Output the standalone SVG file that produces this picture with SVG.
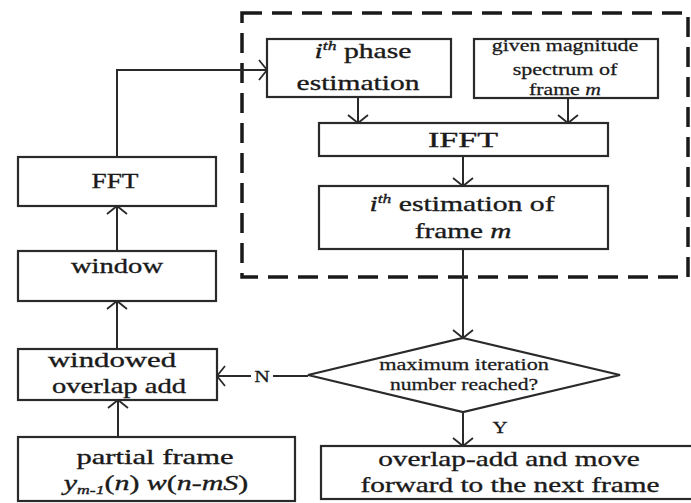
<svg xmlns="http://www.w3.org/2000/svg" width="691" height="503" viewBox="0 0 691 503">
<defs>
<style>
.box{fill:#fff;stroke:#2a2a2a;stroke-width:2.2}
.t{font-family:"Liberation Serif","Times New Roman",serif;font-size:22px;fill:#1a1a1a;stroke:#1a1a1a;stroke-width:0.35;text-anchor:middle}
.s{font-family:"Liberation Serif","Times New Roman",serif;font-size:16px;fill:#1a1a1a;stroke:#1a1a1a;stroke-width:0.25;text-anchor:middle}
.i{font-style:italic}
.ln{fill:none;stroke:#2a2a2a;stroke-width:2}
.dash{fill:none;stroke:#1a1a1a;stroke-width:3.5;stroke-dasharray:20 10}
</style>
<marker id="ah" markerUnits="userSpaceOnUse" viewBox="-12 -12 14 24" markerWidth="14" markerHeight="24" refX="0" refY="0" orient="auto">
<path d="M-8,-10 L0,0 L-8,10" fill="none" stroke="#2a2a2a" stroke-width="1.8"/>
</marker>
</defs>
<rect width="691" height="503" fill="#fff"/>
<rect id="loop-region" class="dash" x="242" y="13" width="446" height="264"/>
<g id="connectors">
<path class="ln" d="M118,437 V400" marker-end="url(#ah)"/>
<path class="ln" d="M117,349 V301" marker-end="url(#ah)"/>
<path class="ln" d="M117,251 V206" marker-end="url(#ah)"/>
<path class="ln" d="M117,157 V70 H267" marker-end="url(#ah)"/>
<path class="ln" d="M358,97 V123" marker-end="url(#ah)"/>
<path class="ln" d="M568,98 V123" marker-end="url(#ah)"/>
<path class="ln" d="M463,156 V186" marker-end="url(#ah)"/>
<path class="ln" d="M463,249 V338" marker-end="url(#ah)"/>
<path class="ln" d="M463,412 V446" marker-end="url(#ah)"/>
<path class="ln" d="M308,376 H273"/>
<path class="ln" d="M251,376 H217" marker-end="url(#ah)"/>
<text class="s" transform="translate(262,382) scale(1.35,1)">N</text>
<text class="s" transform="translate(500,433) scale(1.3,1)">Y</text>
</g>
<g id="fft">
<rect class="box" x="18" y="157" width="198" height="49"/>
<text class="t" transform="translate(115,188) scale(1.24,1)">FFT</text>
</g>
<g id="window">
<rect class="box" x="18" y="251" width="198" height="50"/>
<text class="t" transform="translate(117,273) scale(1.3,1)">window</text>
</g>
<g id="windowed-overlap-add">
<rect class="box" x="18" y="349" width="199" height="51"/>
<text class="t" transform="translate(112,367) scale(1.4,1)">windowed</text>
<text class="t" transform="translate(119,393) scale(1.3,1)">overlap add</text>
</g>
<g id="partial-frame">
<rect class="box" x="18" y="437" width="277" height="64"/>
<text class="t" transform="translate(155,464) scale(1.39,1)">partial frame</text>
<text class="t" transform="translate(156,490) scale(1.36,1)"><tspan class="i">y</tspan><tspan class="i" font-size="13" dy="4">m-1</tspan><tspan dy="-4">(</tspan><tspan class="i">n</tspan>) <tspan class="i">w</tspan>(<tspan class="i">n</tspan>-<tspan class="i">mS</tspan>)</text>
</g>
<g id="phase-estimation">
<rect class="box" x="267" y="39" width="184" height="58"/>
<text class="t" transform="translate(363,58) scale(1.35,1)"><tspan class="i">i</tspan><tspan class="i" font-size="13" dy="-8">th</tspan><tspan dy="8">  phase</tspan></text>
<text class="t" transform="translate(358,90) scale(1.34,1)">estimation</text>
</g>
<g id="magnitude-spectrum">
<rect class="box" x="474" y="39" width="184" height="59"/>
<text class="s" transform="translate(565,51) scale(1.37,1)">given magnitude</text>
<text class="s" transform="translate(565,75) scale(1.38,1)">spectrum of</text>
<text class="s" transform="translate(565,95) scale(1.36,1)">frame <tspan class="i">m</tspan></text>
</g>
<g id="ifft">
<rect class="box" x="319" y="123" width="289" height="33"/>
<text class="t" transform="translate(463,147) scale(1.55,1)">IFFT</text>
</g>
<g id="frame-estimation">
<rect class="box" x="319" y="186" width="289" height="63"/>
<text class="t" transform="translate(462,211) scale(1.35,1)"><tspan class="i">i</tspan><tspan class="i" font-size="13" dy="-8">th</tspan><tspan dy="8"> estimation of</tspan></text>
<text class="t" transform="translate(463,238) scale(1.33,1)">frame <tspan class="i">m</tspan></text>
</g>
<g id="iteration-check">
<polygon class="box" points="463,338 620,375 463,412 308,375"/>
<text class="s" transform="translate(464,370) scale(1.39,1)">maximum iteration</text>
<text class="s" transform="translate(464,390) scale(1.35,1)">number reached?</text>
</g>
<g id="overlap-add-next">
<rect class="box" x="321" y="446" width="380" height="53"/>
<text class="t" transform="translate(509,466) scale(1.33,1)">overlap-add and move</text>
<text class="t" transform="translate(510,492) scale(1.33,1)">forward to the next frame</text>
</g>
</svg>
